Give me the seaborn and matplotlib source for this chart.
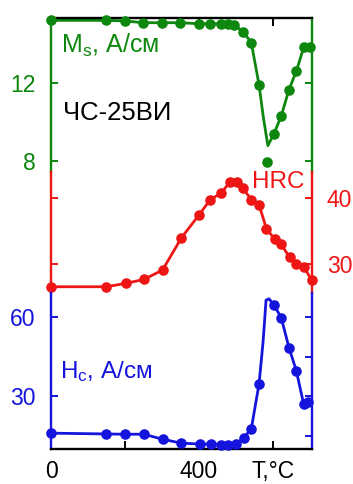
import matplotlib
matplotlib.use("Agg")
import matplotlib.pyplot as plt
import seaborn as sns

# Saturation magnetisation Ms, А/см (measured points)
ms_temp = [0, 150, 200, 250, 300, 350, 400, 430, 460, 478, 496, 520, 542, 563, 585, 603, 623, 644, 664, 684, 702]
ms_val = [15.18, 15.18, 15.15, 15.06, 15.06, 15.06, 15.01, 15.01, 15.01, 14.98, 14.94, 14.6, 14.05, 11.9, 7.95,
          9.4, 10.3, 11.65, 12.6, 13.8, 13.8]
# Ms trend curve
ms_line_temp = [0, 150, 200, 250, 300, 350, 400, 430, 460, 478, 496, 520, 542, 563, 575, 587, 603, 623, 644, 664, 684, 702]
ms_line_val = [15.18, 15.18, 15.15, 15.06, 15.06, 15.06, 15.01, 15.01, 15.01, 14.98, 14.94, 14.6, 14.05, 11.9, 10.2, 8.8,
               9.4, 10.3, 11.65, 12.6, 13.8, 13.8]

# Hardness HRC
hrc_temp = [0, 150, 202, 252, 302, 353, 401, 431, 461, 484, 503, 520, 542, 563, 583, 605, 623, 646, 664, 685, 705]
hrc_val = [26.55, 26.55, 27.06, 27.67, 29.1, 34.0, 37.5, 39.8, 40.8, 42.5, 42.5, 41.5, 39.8, 39.0, 35.4, 33.8,
           33.0, 31.0, 30.0, 29.5, 27.6]

# Coercive force Hc, А/см (measured points)
hc_temp = [0, 150, 200, 251, 302, 353, 403, 432, 461, 479, 500, 522, 542, 563, 603, 623, 644, 664, 684, 695]
hc_val = [16.1, 15.8, 15.7, 15.7, 13.8, 12.3, 12.0, 12.0, 11.8, 11.8, 11.9, 14.4, 17.7, 34.7, 64.7, 59.9, 48.5,
          39.7, 27.0, 28.0]
# Hc trend curve
hc_line_temp = [0, 150, 200, 251, 302, 353, 403, 432, 461, 479, 500, 522, 542, 563, 574, 582, 590, 603, 623, 644,
                664, 684, 695]
hc_line_val = [16.1, 15.8, 15.7, 15.7, 13.8, 12.3, 12.0, 12.0, 11.8, 11.8, 11.9, 14.4, 17.7, 34.7, 50.8, 66.5, 67.0,
               64.7, 59.9, 48.5, 39.7, 27.0, 28.0]

x_ticks = [0, 200, 400, 600]
x_tick_labels = ["0", "", "400", "T,°C"]
ms_ticks = [8, 12]
hrc_ticks = [30, 40]
hc_ticks = [30, 60]
hc_minor_ticks = [15, 45]

GREEN = "#0d870d"
RED = "#ee1515"
BLUE = "#1414dc"

sns.set_style("ticks")
plt.rcParams["font.family"] = ["Liberation Sans", "DejaVu Sans"]
plt.rcParams["mathtext.fontset"] = "custom"
plt.rcParams["mathtext.rm"] = "Liberation Sans"
plt.rcParams["mathtext.it"] = "Liberation Sans"

fig = plt.figure(figsize=(3.53, 4.84), dpi=100)
FW, FH = 353.0, 484.0
X0, X1 = 51.0, 311.5


def frame(top_px, bottom_px):
    return [X0 / FW, (FH - bottom_px) / FH, (X1 - X0) / FW, (bottom_px - top_px) / FH]


ax_ms = fig.add_axes(frame(18, 172))
ax_hrc = fig.add_axes(frame(172, 293))
ax_hc = fig.add_axes(frame(293, 449))

TICK_FS = 16.5
MARK = 58
LW = 2.0


def style_panel(ax, color, yticks, ylim, label_side, first=False, last=False):
    ax.set_facecolor("none")
    ax.set_xlim(0, 705)
    ax.set_ylim(*ylim)
    ax.set_xticks(x_ticks)
    ax.set_xticklabels(x_tick_labels)
    ax.set_yticks(yticks)
    ax.set_xlabel("")
    ax.set_ylabel("")
    for side in ("left", "right"):
        ax.spines[side].set_visible(True)
        ax.spines[side].set_color(color)
        ax.spines[side].set_linewidth(1.7)
    ax.spines["top"].set_visible(first)
    ax.spines["bottom"].set_visible(last)
    ax.spines["top"].set_color("black")
    ax.spines["bottom"].set_color("black")
    ax.spines["top"].set_linewidth(1.7)
    ax.spines["bottom"].set_linewidth(1.7)
    ax.tick_params(axis="y", which="both", direction="in", left=True, right=True, length=5, width=1.4,
                   color=color, labelcolor=color, labelsize=TICK_FS,
                   labelleft=(label_side == "left"), labelright=(label_side == "right"), pad=11)
    ax.tick_params(axis="x", which="both", direction="in", length=6, width=1.4, color="black",
                   labelcolor="black", labelsize=TICK_FS, top=first, bottom=last,
                   labeltop=False, labelbottom=last, pad=8)


# Ms panel
sns.lineplot(x=ms_line_temp, y=ms_line_val, ax=ax_ms, color=GREEN, lw=LW, sort=False, estimator=None)
sns.scatterplot(x=ms_temp, y=ms_val, ax=ax_ms, color=GREEN, s=MARK, linewidth=0, clip_on=False, zorder=3)
style_panel(ax_ms, GREEN, ms_ticks, (7.46, 15.3), "left", first=True)
ax_ms.text(0.040, 0.825, r"M$_\mathregular{s}$, А/см", transform=ax_ms.transAxes, color=GREEN,
           fontsize=18, va="center", ha="left")
ax_ms.text(0.046, 0.383, "ЧС-25ВИ", transform=ax_ms.transAxes, color="black",
           fontsize=18.5, va="center", ha="left")

# HRC panel
sns.lineplot(x=hrc_temp, y=hrc_val, ax=ax_hrc, color=RED, lw=LW, sort=False, estimator=None)
sns.scatterplot(x=hrc_temp, y=hrc_val, ax=ax_hrc, color=RED, s=MARK, linewidth=0, clip_on=False, zorder=3)
style_panel(ax_hrc, RED, hrc_ticks, (25.6, 44.0), "right")
ax_hrc.text(0.772, 0.917, "HRC", transform=ax_hrc.transAxes, color=RED,
            fontsize=17.5, va="center", ha="left")

# Hc panel
sns.lineplot(x=hc_line_temp, y=hc_line_val, ax=ax_hc, color=BLUE, lw=LW, sort=False, estimator=None)
sns.scatterplot(x=hc_temp, y=hc_val, ax=ax_hc, color=BLUE, s=MARK, linewidth=0, clip_on=False, zorder=3)
style_panel(ax_hc, BLUE, hc_ticks, (10.1, 69.2), "left", last=True)
ax_hc.set_yticks(hc_minor_ticks, minor=True)
ax_hc.tick_params(axis="y", which="minor", left=False, right=True, length=5, width=1.4, color=BLUE)
ax_hc.text(0.033, 0.494, r"H$_\mathregular{c}$, А/см", transform=ax_hc.transAxes, color=BLUE,
           fontsize=17.5, va="center", ha="left")

fig.savefig("out.png", dpi=100)
